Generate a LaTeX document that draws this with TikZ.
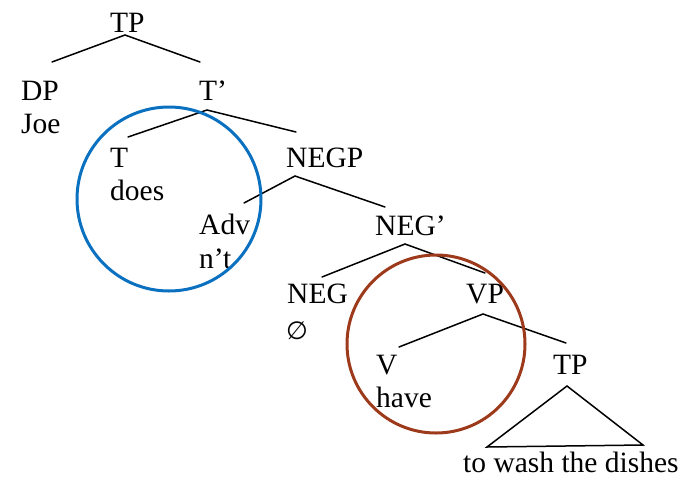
\documentclass[tikz,border=0pt]{standalone}
\usepackage{fontspec}
\setmainfont{Liberation Serif}
\newfontfamily\symfont{DejaVu Sans}
\definecolor{ringblue}{HTML}{0A70C0}
\definecolor{ringbrown}{HTML}{9E3A1C}
\begin{document}
\begin{tikzpicture}[x=1pt,y=-1pt,
  lbl/.style={anchor=base west,inner sep=0pt,font=\fontsize{29.5}{31}\selectfont},
  branch/.style={line width=1.5pt,line cap=round},
  ring/.style={line width=3pt}]
\useasboundingbox (0,0) rectangle (688,480);
% labels
\node[lbl] (tp) at (110,32) {TP};
\node[lbl] (dp) at (21,100) {DP};
\node[lbl] (joe) at (21,133) {Joe};
\node[lbl] (tbar) at (199,100) {T’};
\node[lbl] (t) at (110,167) {T};
\node[lbl] (does) at (110,200) {does};
\node[lbl] (negp) at (286,167) {NEGP};
\node[lbl] (adv) at (199,234) {Adv};
\node[lbl] (nt) at (199,268) {n’t};
\node[lbl] (negbar) at (375,235) {NEG’};
\node[lbl] (neg) at (287,303) {NEG};
\node[lbl] (empty) at (286,339) {\symfont\fontsize{25}{27}\selectfont ∅};
\node[lbl] (vp) at (466,303) {VP};
\node[lbl] (v) at (376,374) {V};
\node[lbl] (have) at (376,407) {have};
\node[lbl] (tp2) at (553,374) {TP};
\node[lbl] (wash) at (463,472) {to wash the dishes};
% branch points
\coordinate (tpA) at (125,35);
\coordinate (tbarA) at (207,110);
\coordinate (negpA) at (295,176);
\coordinate (negbarA) at (405,244);
\coordinate (vpA) at (483,314);
\coordinate (triA) at (567,386);
\coordinate (dpT) at (52,62);
\coordinate (tbarT) at (200,62);
\coordinate (tT) at (128,137);
\coordinate (negpT) at (296,132);
\coordinate (advT) at (244,203);
\coordinate (negbarT) at (385,207);
\coordinate (negT) at (322,277);
\coordinate (vpT) at (485,273);
\coordinate (vT) at (399,347);
\coordinate (tp2T) at (566,343);
\coordinate (triL) at (487,447);
\coordinate (triR) at (643,445);
% branches
\draw[branch] (dpT) -- (tpA) -- (tbarT);
\draw[branch] (tT) -- (tbarA) -- (negpT);
\draw[branch] (advT) -- (negpA) -- (negbarT);
\draw[branch] (negT) -- (negbarA) -- (vpT);
\draw[branch] (vT) -- (vpA) -- (tp2T);
\draw[branch,line join=miter] (triA) -- (triL) -- (triR) -- cycle;
% highlight rings
\node[draw=ringblue,ring,circle,minimum size=184pt,inner sep=0pt] (ringT) at (169,199) {};
\node[draw=ringbrown,ring,circle,minimum size=178pt,inner sep=0pt] (ringV) at (436,344) {};
\end{tikzpicture}
\end{document}
